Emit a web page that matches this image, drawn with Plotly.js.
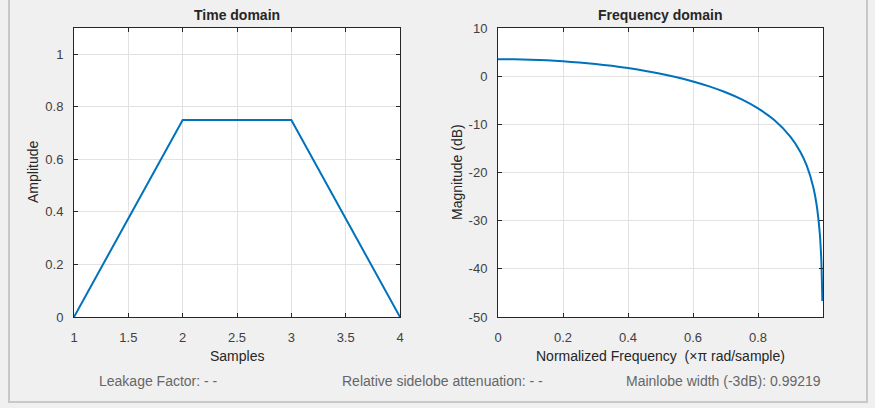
<!DOCTYPE html>
<html>
<head>
<meta charset="utf-8">
<script src="https://cdn.plot.ly/plotly-3.0.1.min.js"></script>
<style>html,body{margin:0;padding:0;background:#f0f0f0;}#chart{width:875px;height:408px;}</style>
</head>
<body>
<div id="chart"></div>
<script>
// Time-domain window samples
const samples = [1, 2, 3, 4];
const amplitude = [0, 0.75, 0.75, 0];

// Frequency response
const normFreq = [0, 0.05, 0.1, 0.15, 0.2, 0.25, 0.3, 0.35, 0.4, 0.45, 0.5, 0.55, 0.6, 0.65, 0.7, 0.75, 0.8, 0.85, 0.9, 0.93, 0.95, 0.97, 0.98, 0.99, 0.995, 0.998];
const magnitudeDb = [3.52, 3.50, 3.41, 3.28, 3.09, 2.83, 2.52, 2.14, 1.68, 1.14, 0.51, -0.23, -1.09, -2.12, -3.34, -4.82, -6.68, -9.12, -12.59, -15.67, -18.58, -23.0, -26.54, -32.56, -38.6, -46.7];

const timeTicks = [1, 1.5, 2, 2.5, 3, 3.5, 4];
const ampTicks = [0, 0.2, 0.4, 0.6, 0.8, 1];
const freqTicks = [0, 0.2, 0.4, 0.6, 0.8];
const dbTicks = [-50, -40, -30, -20, -10, 0, 10];

const plotTitles = ["Time domain", "Frequency domain"];
const axisTitles = ["Samples", "Amplitude", "Normalized Frequency&nbsp;&nbsp;(×π rad/sample)", "Magnitude (dB)"];
const infoLabels = ["Leakage Factor: - -", "Relative sidelobe attenuation: - -", "Mainlobe width (-3dB): 0.99219"];

const FONT = "Liberation Sans, Arial, sans-serif";
const lineColor = "#0072BD";
const txt = "#262626";

const axisCommon = {
  showline: true, mirror: "ticks", linecolor: "#262626", linewidth: 1,
  ticks: "inside", ticklen: 4, tickcolor: "#262626",
  showgrid: true, gridcolor: "#e2e2e2", gridwidth: 1,
  zeroline: false,
  tickfont: {family: FONT, size: 13, color: "#404040"},
  fixedrange: true
};

const traces = [
  {x: samples, y: amplitude, type: "scatter", mode: "lines", line: {color: lineColor, width: 2}, xaxis: "x", yaxis: "y", hoverinfo: "skip"},
  {x: normFreq, y: magnitudeDb, type: "scatter", mode: "lines", line: {color: lineColor, width: 2, shape: "spline", smoothing: 0.6}, xaxis: "x2", yaxis: "y2", hoverinfo: "skip"}
];

const P = (px) => px / 875;
const Q = (py) => 1 - py / 408;
function ann(text, x, y, opts) {
  return Object.assign({text: text, x: P(x), y: Q(y), xref: "paper", yref: "paper", showarrow: false, xanchor: "center", yanchor: "middle", font: {family: FONT, size: 14, color: txt}}, opts || {});
}

const layout = {
  width: 875, height: 408,
  margin: {l: 0, r: 0, t: 0, b: 0},
  paper_bgcolor: "#f0f0f0",
  plot_bgcolor: "#ffffff",
  showlegend: false,
  font: {family: FONT, size: 13, color: txt},
  xaxis: Object.assign({}, axisCommon, {domain: [P(74), P(400)], range: [1, 4], tickvals: timeTicks, ticktext: timeTicks.map(String), anchor: "y", ticklabelstandoff: 8}),
  yaxis: Object.assign({}, axisCommon, {domain: [Q(317), Q(28)], range: [0, 1.1], tickvals: ampTicks, ticktext: ampTicks.map(String), anchor: "x", ticklabelstandoff: 7}),
  xaxis2: Object.assign({}, axisCommon, {domain: [P(498), P(823)], range: [0, 1], tickvals: freqTicks, ticktext: freqTicks.map(String), anchor: "y2", ticklabelstandoff: 8}),
  yaxis2: Object.assign({}, axisCommon, {domain: [Q(317), Q(28)], range: [-50, 10], tickvals: dbTicks, ticktext: dbTicks.map(String), anchor: "x2", ticklabelstandoff: 7}),
  annotations: [
    ann("<b>" + plotTitles[0] + "</b>", 237, 15),
    ann("<b>" + plotTitles[1] + "</b>", 660, 15),
    ann(axisTitles[0], 237, 356),
    ann(axisTitles[1], 33, 172, {textangle: -90}),
    ann(axisTitles[2], 660, 356),
    ann(axisTitles[3], 457, 172, {textangle: -90}),
    ann(infoLabels[0], 97, 381, {xanchor: "left", font: {family: FONT, size: 14, color: "#666666"}}),
    ann(infoLabels[1], 340, 381, {xanchor: "left", font: {family: FONT, size: 14, color: "#666666"}}),
    ann(infoLabels[2], 823, 381, {xanchor: "right", font: {family: FONT, size: 14, color: "#666666"}})
  ],
  shapes: [
    {type: "rect", xref: "paper", yref: "paper", x0: P(9), x1: P(867), y0: Q(402), y1: 1.05, line: {color: "#c8c8c8", width: 2}, fillcolor: "rgba(0,0,0,0)", layer: "below"}
  ]
};

Plotly.newPlot("chart", traces, layout, {staticPlot: true, displayModeBar: false});
</script>
</body>
</html>
